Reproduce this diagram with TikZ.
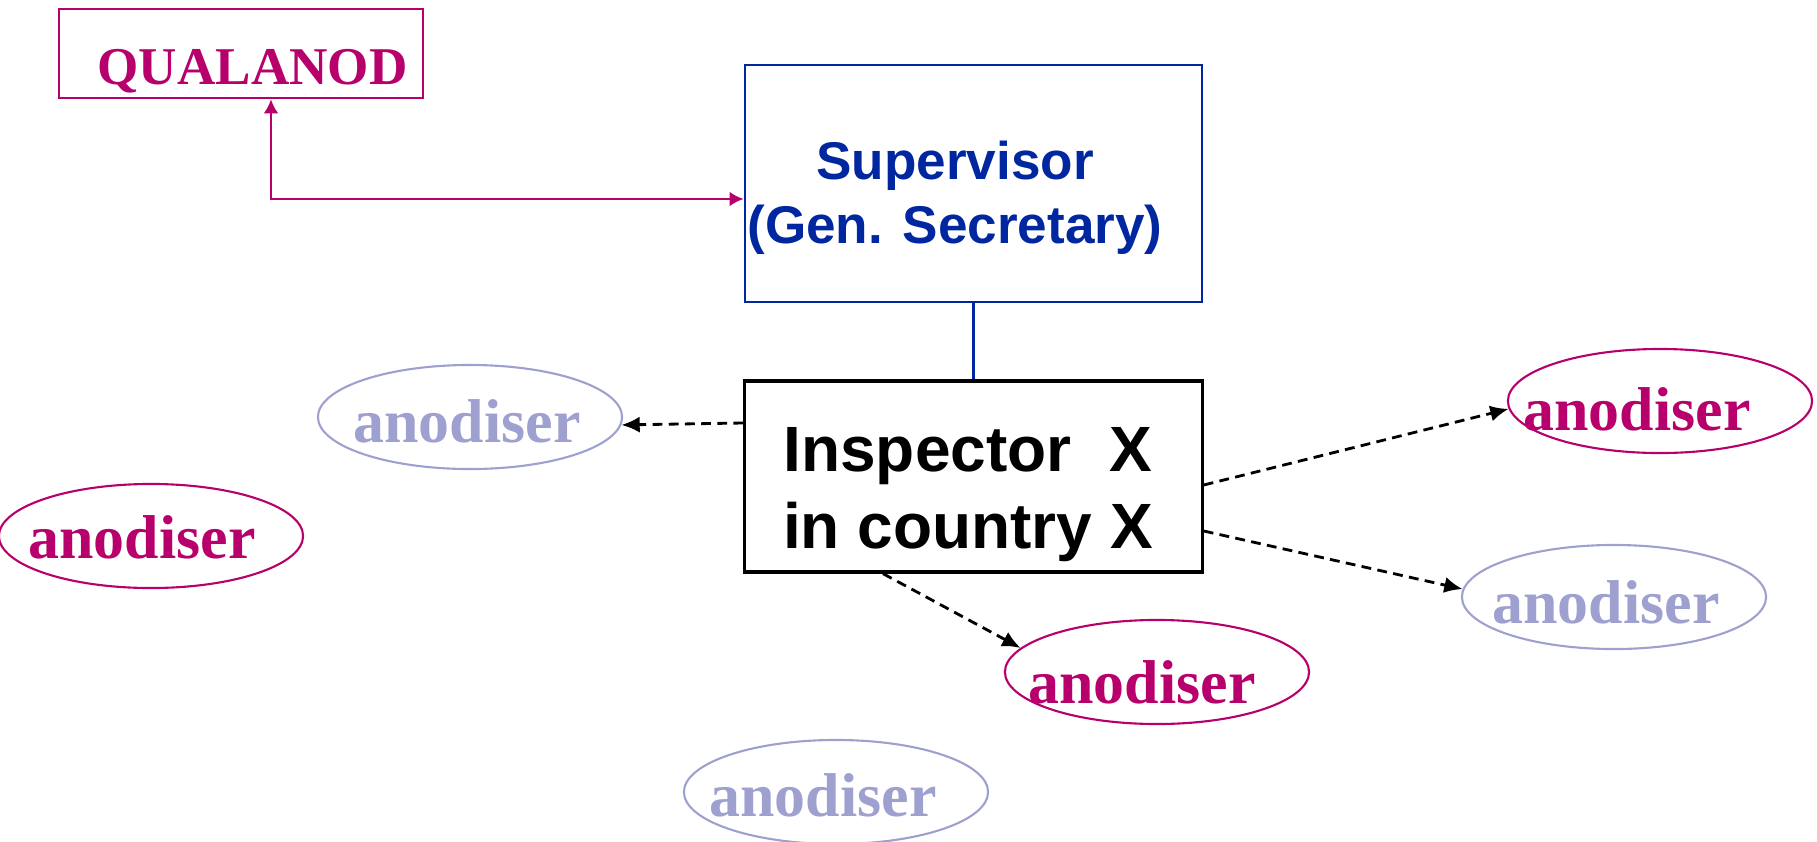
\documentclass[tikz,border=0pt]{standalone}
\usepackage{fontspec}
\setmainfont{Liberation Serif}
\newfontfamily\arialfont{Liberation Sans}
\usepackage{tikz}
\usetikzlibrary{shapes.geometric}
\usetikzlibrary{arrows.meta}

\definecolor{qmagenta}{RGB}{183,0,107}
\definecolor{qfaded}{RGB}{158,160,208}
\definecolor{qblue}{RGB}{0,38,160}

\begin{document}
\begin{tikzpicture}[x=0.01cm,y=-0.01cm,
box/.style={draw,rectangle,inner sep=0pt,line width=0.7pt},
anod/.style={ellipse,draw,inner sep=0pt,minimum width=3.04cm,minimum height=1.04cm,line width=0.6pt},
anodtext/.style={anchor=base,inner sep=0pt,font=\bfseries\fontsize{17.6pt}{20pt}\selectfont},
link/.style={dash pattern=on 2.8pt off 1.8pt,line width=0.8pt,-{Latex[length=5.2pt,width=4.6pt]}}]
\useasboundingbox (0,0) rectangle (1817,842);

\node[box,draw=qmagenta,minimum width=3.64cm,minimum height=0.89cm] (qualbox) at (241,53.5) {};
\node[anchor=base,inner sep=0pt,text=qmagenta,font=\bfseries\fontsize{15.1pt}{18pt}\selectfont] (qual) at (252.5,84) {QUALANOD};

\node[box,draw=qblue,minimum width=4.57cm,minimum height=2.37cm] (supbox) at (973.5,183.5) {};
\node[inner sep=0pt,align=center,text=qblue,font=\arialfont\bfseries\fontsize{15.1pt}{18.2pt}\selectfont] (sup) at (955,198) {Supervisor\\(Gen. Secretary)};

\node[box,draw=black,line width=0.9pt,minimum width=4.57cm,minimum height=1.91cm] (inspbox) at (973.5,476.5) {};
\node[inner sep=0pt,align=center,font=\arialfont\bfseries\fontsize{18.2pt}{21.9pt}\selectfont] (insp) at (968,495) {Inspector\hspace{0.6em}X\\in country X};

\foreach \name/\ex/\ey/\tx/\ty/\col in {lfade/470/417/467/442/qfaded, lmag/151/536/142/558/qmagenta, rmag/1660/401/1637/430/qmagenta, rfade/1614/597/1606/623/qfaded, bmag/1157/672/1142/703/qmagenta, bfade/836/792/823/816/qfaded}
{
\node[anod,draw=\col] (\name) at (\ex,\ey) {};
\node[anodtext,text=\col] (\name text) at (\tx,\ty) {anodiser};
}

\coordinate (corner) at (271,199);
\draw[qmagenta,line width=0.7pt,{Latex[length=4pt,width=4.2pt]}-{Latex[length=4pt,width=4.2pt]}] (qualbox.south -| corner) -- (corner) -- (supbox.west |- corner);
\draw[qblue,line width=0.7pt] (supbox.south) -- (inspbox.north);
\draw[link] (inspbox.west |- 0,423) -- (lfade.357);
\draw[link] (inspbox.east |- 0,485) -- (rmag.183);
\draw[link] (inspbox.east |- 0,531) -- (rfade.177);
\draw[link] (inspbox.south -| 883,0) -- (bmag.170);
\end{tikzpicture}
\end{document}
